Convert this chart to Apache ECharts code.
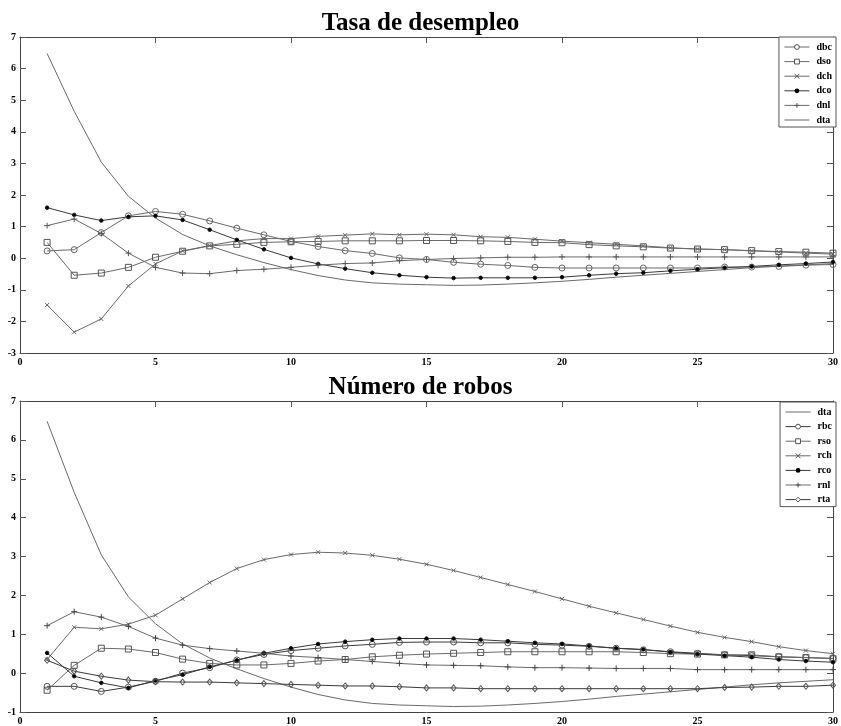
<!DOCTYPE html>
<html>
<head>
<meta charset="utf-8">
<script src="https://cdn.jsdelivr.net/npm/echarts@6/dist/echarts.min.js"></script>
<style>
html,body{margin:0;padding:0;background:#fff;}
#c{width:841px;height:726px;}
</style>
</head>
<body>
<div id="c"></div>
<script>
const periods = [1,2,3,4,5,6,7,8,9,10,11,12,13,14,15,16,17,18,19,20,21,22,23,24,25,26,27,28,29,30];
const titleTop = "Tasa de desempleo";
const titleBottom = "Número de robos";
const yTicksTop = [-3,-2,-1,0,1,2,3,4,5,6,7];
const yTicksBottom = [-1,0,1,2,3,4,5,6,7];
const xTicks = [0,5,10,15,20,25,30];

const dta = [6.48,4.65,3.04,1.96,1.27,0.75,0.39,0.11,-0.14,-0.36,-0.55,-0.69,-0.78,-0.82,-0.84,-0.86,-0.85,-0.82,-0.78,-0.73,-0.67,-0.60,-0.54,-0.48,-0.42,-0.36,-0.30,-0.25,-0.21,-0.17];

const dbc = [0.23,0.27,0.81,1.34,1.48,1.39,1.18,0.95,0.74,0.53,0.37,0.24,0.15,0.01,-0.04,-0.13,-0.19,-0.23,-0.29,-0.31,-0.31,-0.31,-0.31,-0.31,-0.31,-0.28,-0.28,-0.26,-0.22,-0.20];
const dso = [0.50,-0.54,-0.47,-0.29,0.03,0.22,0.39,0.44,0.50,0.52,0.53,0.55,0.55,0.55,0.56,0.56,0.55,0.53,0.50,0.49,0.43,0.39,0.36,0.32,0.29,0.27,0.24,0.21,0.19,0.16];
const dch = [-1.48,-2.34,-1.92,-0.88,-0.18,0.23,0.40,0.55,0.62,0.62,0.69,0.73,0.77,0.74,0.76,0.74,0.68,0.66,0.60,0.54,0.49,0.44,0.39,0.33,0.29,0.27,0.23,0.20,0.16,0.13];
const dco = [1.60,1.37,1.19,1.31,1.34,1.21,0.90,0.58,0.28,0.01,-0.18,-0.33,-0.46,-0.54,-0.60,-0.63,-0.62,-0.62,-0.62,-0.60,-0.54,-0.49,-0.46,-0.40,-0.35,-0.30,-0.26,-0.21,-0.17,-0.12];
const dnl = [1.03,1.24,0.78,0.16,-0.29,-0.47,-0.49,-0.39,-0.35,-0.29,-0.22,-0.17,-0.15,-0.08,-0.04,-0.01,0.01,0.03,0.03,0.04,0.04,0.04,0.04,0.04,0.04,0.04,0.04,0.04,0.04,0.04];

const rbc = [-0.34,-0.34,-0.47,-0.36,-0.21,0.00,0.14,0.34,0.48,0.58,0.64,0.70,0.74,0.79,0.80,0.80,0.78,0.78,0.74,0.72,0.69,0.64,0.60,0.55,0.51,0.47,0.45,0.42,0.40,0.38];
const rso = [-0.44,0.20,0.64,0.62,0.53,0.36,0.25,0.21,0.21,0.25,0.31,0.35,0.42,0.46,0.49,0.51,0.53,0.55,0.55,0.55,0.55,0.55,0.53,0.50,0.49,0.47,0.47,0.42,0.40,0.37];
const rch = [0.35,1.18,1.14,1.26,1.49,1.91,2.33,2.69,2.92,3.05,3.11,3.09,3.03,2.93,2.80,2.64,2.46,2.28,2.10,1.91,1.72,1.55,1.38,1.21,1.05,0.92,0.81,0.68,0.58,0.50];
const rco = [0.52,-0.08,-0.25,-0.38,-0.19,-0.04,0.16,0.33,0.51,0.64,0.75,0.81,0.86,0.89,0.89,0.89,0.86,0.82,0.78,0.75,0.70,0.64,0.61,0.54,0.49,0.45,0.41,0.35,0.31,0.28];
const rnl = [1.22,1.58,1.44,1.20,0.90,0.72,0.63,0.57,0.51,0.44,0.40,0.35,0.30,0.25,0.21,0.20,0.19,0.16,0.14,0.14,0.13,0.12,0.12,0.12,0.09,0.09,0.09,0.09,0.09,0.09];
const rta = [0.33,0.05,-0.08,-0.18,-0.22,-0.23,-0.23,-0.25,-0.27,-0.29,-0.31,-0.33,-0.33,-0.35,-0.38,-0.38,-0.40,-0.40,-0.40,-0.40,-0.40,-0.40,-0.40,-0.40,-0.40,-0.37,-0.36,-0.34,-0.34,-0.31];

const legendTop = ["dbc","dso","dch","dco","dnl","dta"];
const legendBottom = ["dta","rbc","rso","rch","rco","rnl","rta"];

const FONT = "'Liberation Serif', 'DejaVu Serif', serif";
const X_PATH = 'path://M0,0L10,10M0,10L10,0';
const PLUS_PATH = 'path://M5,0L5,10M0,5L10,5';

function pairs(vals){ return periods.map((p,i)=>[p, vals[i]]); }

const markers = {
  circle: {symbol:'circle', symbolSize:6, fill:'rgba(0,0,0,0)'},
  square: {symbol:'rect', symbolSize:6, fill:'rgba(0,0,0,0)'},
  cross: {symbol:X_PATH, symbolSize:4, fill:'rgba(0,0,0,0)'},
  dot: {symbol:'circle', symbolSize:3.5, fill:'#000'},
  plus: {symbol:PLUS_PATH, symbolSize:6, fill:'rgba(0,0,0,0)'},
  diamond: {symbol:'diamond', symbolSize:[5,6], fill:'rgba(0,0,0,0)'},
  none: null
};

function mk(name, vals, idx, marker, lineColor, markColor){
  const s = {
    name: name, type:'line', xAxisIndex: idx*2, yAxisIndex: idx*2,
    data: pairs(vals), smooth:false, animation:false,
    lineStyle:{color: lineColor, width:1},
    emphasis:{disabled:true}
  };
  const m = markers[marker];
  if (m) {
    s.symbol = m.symbol; s.symbolSize = m.symbolSize; s.showSymbol = true;
    s.itemStyle = {color: m.fill, borderColor: markColor, borderWidth: 1};
  } else {
    s.symbol = 'none';
    s.itemStyle = {color: lineColor};
  }
  return s;
}

const DARK = '#3a3a3a', MID = '#6a6a6a';

const series = [
  mk('dbc', dbc, 0, 'circle', MID, '#666'),
  mk('dso', dso, 0, 'square', MID, '#555'),
  mk('dch', dch, 0, 'cross', MID, '#666'),
  mk('dco', dco, 0, 'dot', DARK, '#111'),
  mk('dnl', dnl, 0, 'plus', MID, '#555'),
  mk('dta', dta, 0, 'none', MID, MID),
  mk('dta', dta, 1, 'none', MID, MID),
  mk('rbc', rbc, 1, 'circle', DARK, '#555'),
  mk('rso', rso, 1, 'square', MID, '#555'),
  mk('rch', rch, 1, 'cross', MID, '#666'),
  mk('rco', rco, 1, 'dot', DARK, '#111'),
  mk('rnl', rnl, 1, 'plus', MID, '#444'),
  mk('rta', rta, 1, 'diamond', DARK, '#555')
];

const AX = '#444';
function xAxes(gi){
  return [
    {type:'value', gridIndex:gi, position:'bottom', min:xTicks[0], max:xTicks[xTicks.length-1], interval:5,
     axisLine:{show:true, onZero:false, lineStyle:{color:AX, width:1}},
     axisTick:{show:false},
     splitLine:{show:false},
     axisLabel:{show:true, margin:4, color:'#000', fontFamily:FONT, fontWeight:'bold', fontSize:10}},
    {type:'value', gridIndex:gi, position:'top', min:xTicks[0], max:xTicks[xTicks.length-1], interval:5,
     axisLine:{show:true, onZero:false, lineStyle:{color:AX, width:1}},
     axisTick:{show:true, inside:true, length:6, lineStyle:{color:'#555'}},
     splitLine:{show:false}, axisLabel:{show:false}}
  ];
}
function yAxes(gi, ticks){
  return [
    {type:'value', gridIndex:gi, position:'left', min:ticks[0], max:ticks[ticks.length-1], interval:1,
     axisLine:{show:true, onZero:false, lineStyle:{color:AX, width:1}},
     axisTick:{show:true, inside:true, length:6, lineStyle:{color:'#555'}},
     splitLine:{show:false},
     axisLabel:{show:true, margin:4, color:'#000', fontFamily:FONT, fontWeight:'bold', fontSize:10}},
    {type:'value', gridIndex:gi, position:'right', min:ticks[0], max:ticks[ticks.length-1], interval:1,
     axisLine:{show:true, onZero:false, lineStyle:{color:AX, width:1}},
     axisTick:{show:true, inside:true, length:6, lineStyle:{color:'#555'}},
     splitLine:{show:false}, axisLabel:{show:false}}
  ];
}

const dotNames = ['dco','rco'];
function legendData(names){
  return names.map(n => {
    if (n === 'dta') return {name:n, itemStyle:{color:'rgba(0,0,0,0)', borderColor:'rgba(0,0,0,0)', borderWidth:0}};
    if (dotNames.indexOf(n) >= 0) return {name:n, itemStyle:{color:'#000', borderColor:'#000', borderWidth:0}};
    return {name:n, itemStyle:{color:'#fff', borderColor:'#555', borderWidth:1}};
  });
}

const legendCommon = {
  orient:'vertical', right:5, borderColor:'#555', borderWidth:1, backgroundColor:'#fff',
  itemWidth:25, itemHeight:6, itemGap:4.6, padding:[5,4,2,5], selectedMode:false,
  lineStyle:{width:1},
  textStyle:{fontFamily:FONT, fontWeight:'bold', fontSize:10, color:'#000', lineHeight:10, padding:[0,0,0,2]}
};

const option = {
  animation:false,
  backgroundColor:'#fff',
  title:[
    {text:titleTop, left:'center', top:6, textStyle:{fontFamily:FONT, fontWeight:'bold', fontSize:25, color:'#000'}},
    {text:titleBottom, left:'center', top:370, textStyle:{fontFamily:FONT, fontWeight:'bold', fontSize:25, color:'#000'}}
  ],
  legend:[
    Object.assign({}, legendCommon, {top:37, data:legendData(legendTop)}),
    Object.assign({}, legendCommon, {top:402, data:legendData(legendBottom)})
  ],
  grid:[
    {left:20, right:5, top:37, height:316},
    {left:20, right:5, top:401, bottom:11}
  ],
  xAxis: xAxes(0).concat(xAxes(1)),
  yAxis: yAxes(0, yTicksTop).concat(yAxes(1, yTicksBottom)),
  series: series
};

const chart = echarts.init(document.getElementById('c'), null, {renderer:'canvas'});
chart.setOption(option);
</script>
</body>
</html>
